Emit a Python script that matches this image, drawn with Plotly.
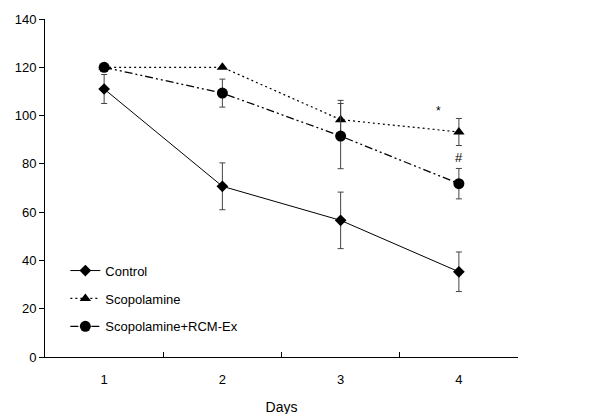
import plotly.graph_objects as go

days = ["1", "2", "3", "4"]
control = [111, 70.7, 56.6, 35.3]
control_err = [6, 9.7, 11.7, 8.2]
scop = [120, 120, 98.3, 93.2]
scop_err = [0, 0, 8, 5.6]
rcm = [120, 109.3, 91.5, 71.8]
rcm_err = [0, 5.8, 13.5, 6.3]

fig = go.Figure()
err_style = dict(type="data", color="#444444", thickness=1, width=3, visible=True)

fig.add_trace(go.Scatter(x=days, y=control, name="Control", mode="lines+markers",
                         line=dict(color="black", width=1, dash="solid"),
                         marker=dict(symbol="diamond", size=9, color="black"),
                         error_y=dict(array=control_err, **err_style), legendgroup="a"))
fig.add_trace(go.Scatter(x=days, y=scop, name="Scopolamine", mode="lines+markers",
                         line=dict(color="black", width=1.2, dash="2px,3px"),
                         marker=dict(symbol="triangle-up", size=10, color="black"),
                         error_y=dict(array=scop_err, **err_style), legendgroup="b"))
fig.add_trace(go.Scatter(x=days, y=rcm, name="Scopolamine+RCM-Ex", mode="lines+markers",
                         line=dict(color="black", width=1.3, dash="8px,3px,2px,3px,2px,3px"),
                         marker=dict(symbol="circle", size=11, color="black"),
                         error_y=dict(array=rcm_err, **err_style), legendgroup="c"))

fig.add_annotation(x=2.83, y=102, xref="x", yref="y", text="*", showarrow=False,
                   font=dict(size=12, color="black", family="Liberation Sans, Arial"))
fig.add_annotation(x=3.0, y=82.5, xref="x", yref="y", text="#", showarrow=False,
                   font=dict(size=13, color="black", family="Liberation Sans, Arial"))

fig.update_layout(
    width=610, height=414,
    margin=dict(l=37, r=100, t=11, b=65),
    plot_bgcolor="white", paper_bgcolor="white",
    font=dict(family="Liberation Sans, Arial", size=13, color="black"),
    showlegend=True,
    legend=dict(x=0.043, y=0.3, xanchor="left", yanchor="top",
                bgcolor="rgba(0,0,0,0)", font=dict(size=13),
                tracegroupgap=8, traceorder="grouped"),
    xaxis=dict(type="category", range=[-0.5, 3.5], showline=True, linecolor="black", linewidth=1,
               ticks="inside", tickson="boundaries", ticklen=5, tickcolor="black",
               ticklabelstandoff=10,
               showgrid=False, zeroline=False, automargin=False,
               title=dict(text="Days", standoff=16, font=dict(size=14))),
    yaxis=dict(range=[0, 140], dtick=20, showline=True, linecolor="black", linewidth=1,
               ticks="outside", ticklen=5, tickcolor="black", showgrid=False, zeroline=False,
               automargin=False),
)

fig.write_html("out.html")
